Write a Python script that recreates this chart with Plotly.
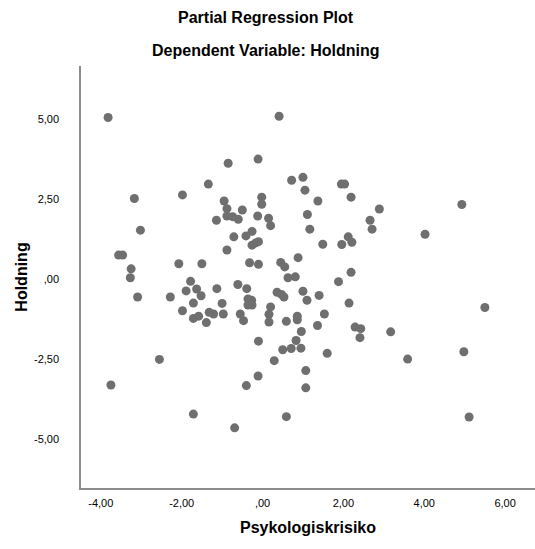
import plotly.graph_objects as go

# Partial regression residuals
psykologiskrisiko = [
    -3.82, 0.41, -0.85, -0.11, -1.34, -1.98, -3.17, 0.72, 1.00, 1.05,
    1.95, 2.03, 2.19, -0.02, -0.95, 1.37, -0.02, -0.88, -0.50, -0.88,
    -0.74, -0.60, -1.14, -0.12, 0.15, 0.20, 1.11, 1.17, -3.02, -0.71,
    -0.41, -0.26, -0.26, -0.17, -0.10, -0.88, 1.49, 1.96, 2.12, 2.21,
    2.66, 2.89, 2.71, 4.93, 4.02, -3.56, -3.46, -3.25, -3.27, -2.07,
    -1.50, 0.88, 0.45, 0.55, -0.32, -0.10, 0.63, 0.81, 2.19, 1.88,
    -1.78, -1.89, -1.63, -1.52, -1.13, -3.09, -2.28, -0.61, -0.39, 0.36,
    0.47, 0.53, 1.00, 1.10, 1.40, 2.14, -0.36, -0.27, -0.36, -0.26,
    -1.71, -1.00, 0.20, 0.16, 0.16, -0.55, -0.47, -0.97, 0.86, 0.86,
    0.59, 1.53, 1.36, -1.98, -1.58, -1.71, -1.32, -1.21, -1.39, 2.29,
    2.43, 2.41, 3.17, 0.96, 0.83, -0.10, 0.50, 0.71, 0.95, 1.60,
    0.29, -0.11, 1.07, -0.40, 1.07, 0.59, -0.69, -2.55, -3.75, -1.71,
    5.50, 4.98, 3.59, 5.11,
]
holdning = [
    5.05, 5.09, 3.62, 3.75, 2.97, 2.63, 2.52, 3.09, 3.18, 2.78,
    2.97, 2.97, 2.56, 2.56, 2.44, 2.44, 2.34, 2.20, 2.16, 1.97,
    1.95, 1.87, 1.84, 1.97, 1.90, 1.67, 2.02, 1.56, 1.53, 1.32,
    1.35, 1.49, 1.06, 1.13, 1.17, 0.91, 1.09, 1.08, 1.32, 1.15,
    1.84, 2.19, 1.56, 2.33, 1.40, 0.75, 0.75, 0.32, 0.04, 0.48,
    0.48, 0.67, 0.52, 0.38, 0.51, 0.46, 0.04, 0.07, 0.21, -0.08,
    -0.07, -0.37, -0.31, -0.52, -0.30, -0.56, -0.56, -0.17, -0.30, -0.41,
    -0.48, -0.56, -0.38, -0.66, -0.51, -0.75, -0.62, -0.66, -0.81, -0.81,
    -0.75, -0.76, -0.87, -1.10, -1.34, -1.09, -1.30, -1.09, -1.16, -1.27,
    -1.32, -1.09, -1.45, -0.99, -1.16, -1.23, -1.04, -1.09, -1.36, -1.50,
    -1.55, -1.83, -1.65, -1.64, -1.92, -1.94, -2.21, -2.17, -2.16, -2.32,
    -2.55, -3.03, -2.86, -3.33, -3.40, -4.30, -4.65, -2.51, -3.31, -4.22,
    -0.89, -2.27, -2.50, -4.31,
]

x_ticks = [-4, -2, 0, 2, 4, 6]
x_ticklabels = ["-4,00", "-2,00", ",00", "2,00", "4,00", "6,00"]
y_ticks = [5, 2.5, 0, -2.5, -5]
y_ticklabels = ["5,00", "2,50", ",00", "-2,50", "-5,00"]

FONT = "Liberation Sans, Arial, sans-serif"
W, H = 535, 549
ML, MR, MT, MB = 81, 0, 66, 61

fig = go.Figure(
    go.Scatter(
        x=psykologiskrisiko,
        y=holdning,
        mode="markers",
        marker=dict(size=9, color="#6f6f6f", line=dict(width=0)),
        hoverinfo="x+y",
    )
)

plot_h = H - MT - MB
plot_w = W - ML - MR


def paper_y(py):
    return (H - MB - py) / plot_h


title_x = (266 - ML) / plot_w

fig.update_layout(
    width=W,
    height=H,
    margin=dict(l=ML, r=MR, t=MT, b=MB),
    paper_bgcolor="white",
    plot_bgcolor="white",
    showlegend=False,
    font=dict(family=FONT, color="black"),
    annotations=[
        dict(text="<b>Partial Regression Plot</b>", x=title_x, y=paper_y(18),
             xref="paper", yref="paper", xanchor="center", yanchor="middle",
             showarrow=False, font=dict(size=16, family=FONT, color="black")),
        dict(text="<b>Dependent Variable: Holdning</b>", x=title_x,
             y=paper_y(50), xref="paper", yref="paper", xanchor="center",
             yanchor="middle", showarrow=False,
             font=dict(size=16, family=FONT, color="black")),
    ],
)

fig.update_xaxes(
    range=[-4.49, 6.74],
    tickvals=x_ticks,
    ticktext=x_ticklabels,
    showgrid=False,
    zeroline=False,
    showline=True,
    linecolor="#8c8c8c",
    linewidth=1.5,
    ticks="",
    ticklabelstandoff=4,
    tickfont=dict(size=11, family=FONT, color="black"),
    title=dict(text="<b>Psykologiskrisiko</b>",
               font=dict(size=16, family=FONT, color="black"), standoff=14),
)
fig.update_yaxes(
    range=[-6.53, 6.66],
    tickvals=y_ticks,
    ticktext=y_ticklabels,
    showgrid=False,
    zeroline=False,
    showline=True,
    linecolor="#8c8c8c",
    linewidth=1.5,
    ticks="",
    ticklabelstandoff=18,
    tickfont=dict(size=11, family=FONT, color="black"),
    title=dict(text="<b>Holdning</b>",
               font=dict(size=16, family=FONT, color="black"), standoff=2),
)

fig.write_html(
    "out.html",
    config={"displayModeBar": False},
    post_script="document.body.style.margin='0';document.body.style.padding='0';",
)
